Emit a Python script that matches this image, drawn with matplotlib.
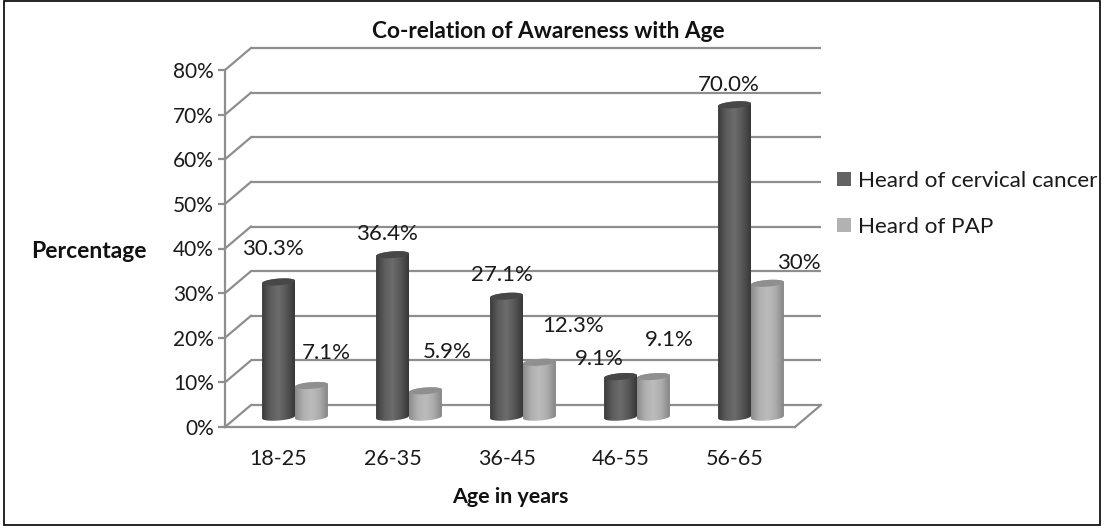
import numpy as np
import matplotlib
matplotlib.use("Agg")
import matplotlib.pyplot as plt
from matplotlib.colors import LinearSegmentedColormap
from matplotlib.patches import Patch, Polygon, Rectangle

plt.rcParams['font.family'] = ['Lato', 'DejaVu Sans']

categories = ['18-25', '26-35', '36-45', '46-55', '56-65']
cervical = [30.3, 36.4, 27.1, 9.1, 70.0]
pap = [7.1, 5.9, 12.3, 9.1, 30.0]
cervical_labels = ['30.3%', '36.4%', '27.1%', '9.1%', '70.0%']
pap_labels = ['7.1%', '5.9%', '12.3%', '9.1%', '30%']
y_ticks = [0, 10, 20, 30, 40, 50, 60, 70, 80]
title = 'Co-relation of Awareness with Age'

W, H = 1104, 529
fig = plt.figure(figsize=(W / 100, H / 100), dpi=100, facecolor='white')
fig.add_artist(Rectangle((4 / W, 4 / H), 1096 / W, 524 / H, transform=fig.transFigure,
                         fill=False, ec='black', lw=1.2))

L, R, T, B = 225, 795, 70, 427
ax = fig.add_axes([L / W, 1 - B / H, (R - L) / W, (B - T) / H])
ax.set_xlim(0, 5)
ax.set_ylim(0, 80)
ax.patch.set_alpha(0)
ax.set_autoscale_on(False)

GRID = '#8e8e8e'
dx, dy = 26 / 114, 22 / 4.4625
# back wall, side wall and floor
for v in y_ticks:
    ax.plot([dx, 5 + dx], [v + dy, v + dy], color=GRID, lw=1.6, clip_on=False, zorder=1,
            solid_capstyle='butt')
    ax.plot([0, dx], [v, v + dy], color=GRID, lw=1.6, clip_on=False, zorder=1)
ax.plot([5, 5 + dx], [0, dy], color=GRID, lw=1.6, clip_on=False, zorder=1)

for s in ['top', 'right']:
    ax.spines[s].set_visible(False)
for s in ['left', 'bottom']:
    ax.spines[s].set_color(GRID)
    ax.spines[s].set_linewidth(1.6)
ax.set_yticks(y_ticks)
ax.set_yticklabels([f'{v}%' for v in y_ticks], fontsize=15, color='#1a1a1a')
ax.tick_params(axis='y', length=5, width=1.6, color=GRID, pad=3)
ax.set_xticks([i + 0.47 for i in range(len(categories))])
ax.set_xticklabels(categories, fontsize=15.5, color='#1a1a1a')
ax.tick_params(axis='x', length=0, pad=15.5)

dark_cmap = LinearSegmentedColormap.from_list('d', ['#3c3c3c', '#5c5c5c', '#6c6c6c', '#565656', '#383838'])
light_cmap = LinearSegmentedColormap.from_list('l', ['#8c8c8c', '#b0b0b0', '#bcbcbc', '#acacac', '#868686'])

BASE = 2.2
WIDTH = 0.289
EH = 0.75


def cylinder(x0, value, cmap, top_color, zorder):
    x1 = x0 + WIDTH
    xc = (x0 + x1) / 2
    top = BASE + value
    t = np.linspace(0, np.pi, 30)
    ex = np.cos(t) * WIDTH / 2
    ey = np.sin(t) * EH
    tilt = (ex / (WIDTH / 2)) * 0.28
    top_upper = np.column_stack([xc + ex, top + ey + tilt])
    top_lower = np.column_stack([xc - ex, top - ey - tilt])
    bottom = np.column_stack([xc - ex, BASE - ey - tilt])
    body = np.vstack([top_upper, bottom])
    clip = Polygon(body, closed=True, transform=ax.transData, fc='none', ec='none')
    ax.add_patch(clip)
    im = ax.imshow(np.linspace(0, 1, 64)[None, :], cmap=cmap, aspect='auto',
                   extent=(x0, x1, BASE - 2, top + 2), zorder=zorder, clip_on=True)
    im.set_clip_path(clip)
    ax.add_patch(Polygon(np.vstack([top_upper, top_lower]), closed=True, fc=top_color,
                         ec='none', zorder=zorder + 0.1, clip_on=False))


for i, (a, b) in enumerate(zip(cervical, pap)):
    cylinder(i + 0.325, a, dark_cmap, '#474747', 3)
    cylinder(i + 0.325 + WIDTH, b, light_cmap, '#8f8f8f', 3)

ax.set_xlim(0, 5)
ax.set_ylim(0, 80)

# data labels placed from the top of each bar (pixel offsets)
off_dark = [(-6, 33), (-6, 21), (-5, 21), (-21, 18), (-6, 20)]
off_light = [(15, 32), (22, 39), (34, 36), (16, 37), (31, 20)]
for i in range(len(categories)):
    xa = i + 0.325 + WIDTH / 2
    xb = xa + WIDTH
    ax.annotate(cervical_labels[i], (xa, BASE + cervical[i]),
                xytext=(off_dark[i][0] * .72, off_dark[i][1] * .72), textcoords='offset points',
                ha='center', va='center', fontsize=16, color='#1a1a1a', zorder=6)
    ax.annotate(pap_labels[i], (xb, BASE + pap[i]),
                xytext=(off_light[i][0] * .72, off_light[i][1] * .72), textcoords='offset points',
                ha='center', va='center', fontsize=16, color='#1a1a1a', zorder=6)

fig.text(548 / W, 1 - 31 / H, title, ha='center', va='center', fontsize=16.3, fontweight='bold', color='#111111')
fig.text(89 / W, 1 - 251 / H, 'Percentage', ha='center', va='center', fontsize=16.5, fontweight='bold', color='#111111')
fig.text(510 / W, 1 - 497 / H, 'Age in years', ha='center', va='center', fontsize=15.4, fontweight='bold', color='#111111')

handles = [Patch(fc='#636363', label='Heard of cervical cancer'),
           Patch(fc='#b2b2b2', label='Heard of PAP')]
fig.legend(handles=handles, loc='center left', bbox_to_anchor=(837 / W, 1 - 204 / H),
           frameon=False, fontsize=16.2, handlelength=0.62, handleheight=0.62,
           handletextpad=0.3, labelspacing=1.15, labelcolor='#1a1a1a',
           borderpad=0, borderaxespad=0)

fig.savefig('out.png', dpi=100, facecolor='white')
